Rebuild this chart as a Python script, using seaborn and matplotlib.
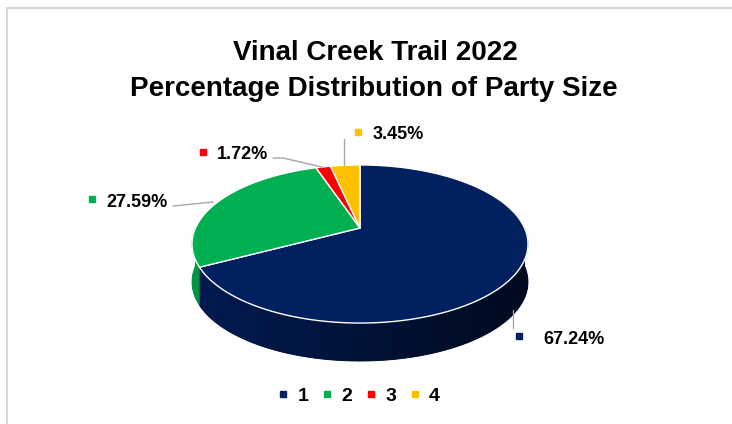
import numpy as np
import matplotlib
matplotlib.use("Agg")
import matplotlib.pyplot as plt
from matplotlib.lines import Line2D
from matplotlib.patches import Polygon
from matplotlib.colors import to_rgb
import seaborn as sns

# ---- data -------------------------------------------------------------
categories = ["1", "2", "3", "4"]
shares = [67.24, 27.59, 1.72, 3.45]
colors = ["#002060", "#00B050", "#FF0000", "#FFC000"]
title_lines = ["Vinal Creek Trail 2022", "Percentage Distribution of Party Size"]

# ---- layout (pixel space, origin top-left) -----------------------------
W, H = 732, 424
CX, CY = 360, 228        # pie apex on screen
A, B = 164.5, 75.8       # horizontal / vertical radius of the disc
K = 0.2025               # perspective foreshortening of the far side
DEPTH = 38               # thickness of the pie wall

label_layout = [
    dict(leader=[(513, 310), (513, 328)], marker=(519, 336), text=(543, 344)),
    dict(leader=[(173, 206), (213, 202)], marker=(92, 199), text=(106, 207)),
    dict(leader=[(273, 158), (283, 158), (322, 167)], marker=(203, 152), text=(217, 159)),
    dict(leader=[(344, 165), (344, 139)], marker=(358, 132), text=(373, 139)),
]

sns.set_theme(style="white")
plt.rcParams["font.family"] = ["Liberation Sans", "DejaVu Sans"]
plt.rcParams["text.color"] = "black"

fig = plt.figure(figsize=(W / 100, H / 100), dpi=100)
ax = fig.add_axes([0, 0, 1, 1])


def project(t_deg):
    """Screen position of the disc rim at angle t (degrees, CCW from 3 o'clock)."""
    t = np.radians(t_deg)
    u, v = np.cos(t), np.sin(t)
    s = 1.0 / (1.0 + K * v)
    return CX + A * u * s, CY - B * v * s


def shade(x):
    """Brightness of the wall at screen x: lit on the left, dark on the right."""
    return 0.58 - 0.27 * (x - CX) / 168


# slice angle ranges: start at 12 o'clock and run clockwise
fractions = np.array(shares) / np.sum(shares)
edges = 90 - 360 * np.concatenate([[0], np.cumsum(fractions)])

# front wall with a horizontal shading gradient
gx = np.linspace(CX - 175, CX + 175, 400)
for i, col in enumerate(colors):
    hi_s, lo_s = edges[i], edges[i + 1]
    base = np.array(to_rgb(col))
    for k in (-2, -1, 0, 1):
        lo = max(lo_s, 180 + 360 * k)
        hi = min(hi_s, 360 + 360 * k)
        if hi <= lo:
            continue
        ts = np.linspace(lo, hi, 300)
        xs, ys = project(ts)
        verts = np.r_[np.c_[xs, ys], np.c_[xs[::-1], ys[::-1] + DEPTH]]
        mid = tuple(np.clip(base * shade(xs.mean()), 0, 1))
        wall = Polygon(verts, closed=True, facecolor=mid, edgecolor=mid,
                       linewidth=0.6, zorder=1)
        ax.add_patch(wall)
        img = np.clip(base[None, None, :] * shade(gx)[None, :, None], 0, 1)
        im = ax.imshow(img, extent=(gx[0], gx[-1], ys.max() + DEPTH + 2, ys.min() - 2),
                       aspect="auto", interpolation="bilinear", zorder=1.5)
        im.set_clip_path(wall)

# top face of the pie
for i, col in enumerate(colors):
    ts = np.linspace(edges[i], edges[i + 1], 200)
    xs, ys = project(ts)
    ax.fill(np.r_[CX, xs], np.r_[CY, ys], facecolor=col, edgecolor="white",
            linewidth=1.0, joinstyle="round", zorder=3)

# data labels with leader lines
for val, col, lay in zip(shares, colors, label_layout):
    pts = np.array(lay["leader"], dtype=float)
    ax.plot(pts[:, 0], pts[:, 1], color="#a6a6a6", lw=1.0, zorder=4)
    mx, my = lay["marker"]
    ax.plot(mx, my, marker="s", ms=4, color=col, mec=col, zorder=5)
    tx, ty = lay["text"]
    ax.text(tx, ty, f"{val:.2f}%", fontsize=13, fontweight="bold",
            color="black", ha="left", va="baseline", zorder=5)

ax.set_xlim(0, W)
ax.set_ylim(H, 0)
ax.axis("off")

# title
fig.text(375 / W, 1 - 60 / H, title_lines[0], fontsize=20, fontweight="bold",
         color="black", ha="center", va="baseline")
fig.text(374 / W, 1 - 96 / H, title_lines[1], fontsize=20, fontweight="bold",
         color="black", ha="center", va="baseline")

# legend
handles = [Line2D([], [], ls="none", marker="s", ms=4.5, color=c, mec=c)
           for c in colors]
leg = fig.legend(handles, categories, loc="center", bbox_to_anchor=(359 / W, 1 - 396 / H),
                 ncol=4, frameon=False, handlelength=0.5, handletextpad=0.5,
                 columnspacing=0.7, prop=dict(size=14, weight="bold"))
for t in leg.get_texts():
    t.set_color("black")

# chart-area border
fig.add_artist(Line2D([7 / W, 1], [1 - 8 / H, 1 - 8 / H], color="#d9d9d9", lw=1.5))
fig.add_artist(Line2D([7 / W, 7 / W], [0, 1 - 8 / H], color="#d9d9d9", lw=1.5))

fig.savefig("out.png", dpi=100, facecolor="white")
